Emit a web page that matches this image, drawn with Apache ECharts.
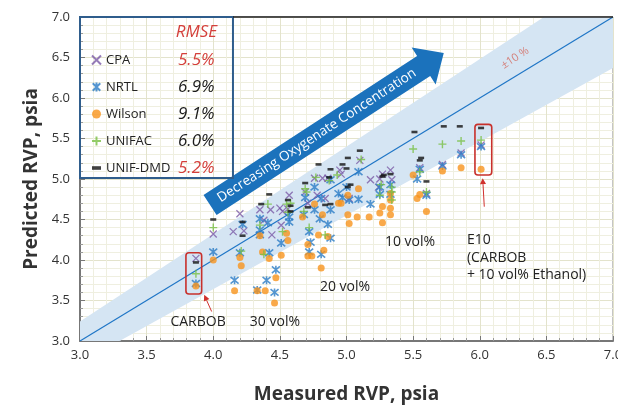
<!DOCTYPE html>
<html><head><meta charset="utf-8">
<script src="https://cdn.jsdelivr.net/npm/echarts/dist/echarts.min.js"></script>
<style>html,body{margin:0;padding:0;background:#fff}#c{width:618px;height:406px}</style>
</head><body><div id="c"></div>
<script>
// ---------- data ----------
const seriesNames = ['CPA', 'NRTL', 'Wilson', 'UNIFAC', 'UNIF-DMD'];
const rmseValues = ['5.5%', '6.9%', '9.1%', '6.0%', '5.2%'];
const rmseHighlight = [true, false, false, false, true];
const axisMin = 3.0, axisMax = 7.0, axisStep = 0.5;
const bandLow = 0.91, bandHigh = 1.08;   // "±10 %" band as drawn
const diagonal = [[3, 3], [7, 7]];

const cpa = [[3.87,4.02],[4.00,4.32],[4.15,4.35],[4.20,4.57],[4.23,4.36],[4.35,4.62],[4.38,4.49],[4.43,4.62],[4.44,4.31],[4.50,4.64],[4.51,4.43],[4.52,4.60],[4.56,4.63],[4.57,4.80],[4.69,4.84],[4.71,4.70],[4.76,5.01],[4.78,4.80],[4.82,5.01],[4.84,4.76],[4.86,5.01],[4.95,5.11],[4.96,5.06],[5.02,4.76],[5.10,5.23],[5.18,4.99],[5.24,4.90],[5.25,5.00],[5.27,5.06],[5.33,5.11],[5.34,4.99],[5.55,5.14],[5.60,4.82],[5.72,5.18],[5.86,5.32],[6.01,5.42]];
const nrtl = [[3.87,3.71],[4.00,4.10],[4.16,3.75],[4.20,4.09],[4.22,4.44],[4.33,3.63],[4.35,4.51],[4.35,4.37],[4.35,4.31],[4.40,3.75],[4.41,4.46],[4.42,4.09],[4.46,3.60],[4.47,3.88],[4.51,4.21],[4.57,4.53],[4.57,4.47],[4.68,4.56],[4.69,4.77],[4.72,4.35],[4.72,4.10],[4.73,4.22],[4.76,4.90],[4.76,4.62],[4.80,4.51],[4.81,4.76],[4.81,4.07],[4.86,4.44],[4.88,4.27],[4.88,4.62],[4.88,4.99],[4.94,4.82],[4.97,4.77],[5.00,4.90],[5.02,4.74],[5.09,4.75],[5.09,5.09],[5.18,4.69],[5.25,4.90],[5.25,4.81],[5.33,4.81],[5.33,4.93],[5.53,5.00],[5.55,5.12],[5.60,4.80],[5.72,5.16],[5.86,5.30],[6.01,5.40]];
const wilson = [[3.87,3.68],[4.00,4.00],[4.16,3.62],[4.20,4.03],[4.21,3.93],[4.33,3.62],[4.35,4.30],[4.37,4.10],[4.39,3.62],[4.42,4.02],[4.46,3.47],[4.47,3.78],[4.51,4.06],[4.55,4.33],[4.56,4.24],[4.67,4.53],[4.71,4.19],[4.71,4.05],[4.74,4.05],[4.76,4.69],[4.79,4.31],[4.81,3.90],[4.82,4.56],[4.83,4.12],[4.86,4.29],[4.94,4.70],[4.96,4.70],[5.01,4.80],[5.01,4.56],[5.02,4.45],[5.08,4.53],[5.09,4.88],[5.17,4.53],[5.25,4.58],[5.27,4.66],[5.27,4.46],[5.33,4.82],[5.33,4.74],[5.33,4.64],[5.33,4.56],[5.50,5.05],[5.53,4.76],[5.55,4.81],[5.60,4.60],[5.72,5.10],[5.86,5.14],[6.01,5.12]];
const unifac = [[3.87,3.83],[4.00,4.40],[4.21,4.11],[4.35,4.43],[4.38,4.07],[4.41,4.69],[4.52,4.35],[4.55,4.69],[4.56,4.59],[4.58,4.70],[4.68,4.60],[4.69,4.88],[4.70,4.84],[4.72,4.40],[4.77,5.02],[4.84,4.31],[4.87,4.98],[4.93,5.05],[5.11,5.24],[5.25,4.80],[5.26,4.93],[5.34,4.90],[5.34,4.84],[5.34,4.74],[5.50,5.37],[5.55,5.09],[5.60,4.84],[5.72,5.43],[5.86,5.47],[6.01,5.48]];
const unifDmd = [[3.87,3.97],[4.00,4.50],[4.22,4.47],[4.22,4.30],[4.36,4.69],[4.42,4.81],[4.56,4.74],[4.58,4.67],[4.58,4.60],[4.69,4.95],[4.71,4.65],[4.79,5.18],[4.84,4.68],[4.87,5.02],[4.88,4.69],[4.88,5.12],[4.97,5.18],[5.00,5.13],[5.01,5.26],[5.01,4.90],[5.03,4.93],[5.10,5.35],[5.27,5.03],[5.28,5.05],[5.33,5.06],[5.51,5.58],[5.55,5.23],[5.56,5.26],[5.60,4.97],[5.73,5.65],[5.85,5.65],[6.01,5.63]];

// annotation anchors (data coordinates)
const arrowTail = [3.976, 4.679], arrowTip = [5.73, 6.556];
const arrowText = 'Decreasing Oxygenate Concentration';
const carbobBox = [[3.795, 4.09], [3.913, 3.58]];
const e10Box = [[5.964, 5.675], [6.09, 5.05]];
const legendBox = [[3.0, 7.0], [4.148, 5.012]];

// ---------- styles ----------
const FONT = "'Open Sans', 'DejaVu Sans', sans-serif";
const colors = {CPA:'#7b5aa6', NRTL:'#2a7cc6', Wilson:'#f7941d', UNIFAC:'#78bf43', 'UNIF-DMD':'#111111'};
const symX = 'path://M0,0L10,10M10,0L0,10';
const symStar = 'path://M0,0L10,10M10,0L0,10M5,-1L5,11';
const symPlus = 'path://M5,0L5,10M0,5L10,5';

const chart = echarts.init(document.getElementById('c'));

function lineScatter(name, data, symbol, size, lw) {
  return {name, type:'scatter', data, symbol, symbolSize:size, z:5,
    itemStyle:{color:colors[name], borderColor:colors[name], borderWidth:lw}};
}

const bandPoly = [[axisMin, axisMin],[axisMin/bandLow, axisMin],[axisMax, axisMax*bandLow],
                  [axisMax, axisMax],[axisMax/bandHigh, axisMax],[axisMin, axisMin*bandHigh]];

const axisCommon = {
  type:'value', min:axisMin, max:axisMax, interval:axisStep,
  nameLocation:'middle',
  nameTextStyle:{fontFamily:FONT, fontWeight:'bold', fontSize:19, color:'#333'},
  axisLine:{lineStyle:{color:'#777', width:2}},
  axisTick:{inside:true, length:5, lineStyle:{color:'#777'}},
  minorTick:{show:true, splitNumber:5, length:3, lineStyle:{color:'#999'}},
  splitLine:{lineStyle:{color:'#e3e3cc'}},
  minorSplitLine:{show:true, lineStyle:{color:'#efefe0'}},
  axisLabel:{formatter:v=>v.toFixed(1), fontFamily:FONT, fontSize:13, color:'#333'}
};

chart.setOption({
  animation:false,
  grid:{left:80, right:5, top:17, bottom:65, containLabel:false, outerBoundsMode:'none',
        show:true, borderColor:'#8a8a8a', borderWidth:1},
  xAxis:Object.assign({}, axisCommon, {name:'Measured RVP, psia', nameGap:44, axisLabel:Object.assign({}, axisCommon.axisLabel, {margin:8})}),
  yAxis:Object.assign({}, axisCommon, {name:'Predicted RVP, psia', nameGap:38, axisLabel:Object.assign({}, axisCommon.axisLabel, {margin:10})}),
  legend:{
    orient:'vertical', left:86, top:45, itemWidth:9, itemHeight:9, itemGap:7, selectedMode:false,
    data:seriesNames.map(n => n === 'UNIF-DMD' ? {name:n, icon:'path://M0,0H6V2.4H0Z'} : {name:n}),
    formatter: name => {
      const i = seriesNames.indexOf(name);
      return '{n|' + name + '}{' + (rmseHighlight[i] ? 'r' : 'k') + '|' + rmseValues[i] + '}';
    },
    textStyle:{lineHeight:20, rich:{
      n:{width:72, fontSize:13, color:'#222', fontFamily:FONT},
      r:{fontSize:17, fontStyle:'italic', color:'#d43f3a', fontFamily:FONT},
      k:{fontSize:17, fontStyle:'italic', color:'#1a1a1a', fontFamily:FONT}
    }}
  },
  series:[
    {type:'custom', silent:true, z:1, data:[0],
     renderItem:(params, api) => ({type:'polygon', shape:{points:bandPoly.map(p => api.coord(p))}, style:{fill:'#d5e5f3'}})},
    {type:'line', data:diagonal, symbol:'none', silent:true, z:2, lineStyle:{color:'#1f76c6', width:1.2}},
    lineScatter('CPA', cpa, symX, 7, 1.3),
    lineScatter('NRTL', nrtl, symStar, 8, 1.6),
    {name:'Wilson', type:'scatter', data:wilson, symbol:'circle', symbolSize:7, z:5, itemStyle:{color:colors.Wilson}},
    lineScatter('UNIFAC', unifac, symPlus, 8, 1.4),
    {name:'UNIF-DMD', type:'scatter', data:unifDmd, symbol:'rect', symbolSize:[6,2.6], z:6, itemStyle:{color:colors['UNIF-DMD']}}
  ]
});

// ---------- annotations ----------
const px = p => chart.convertToPixel({gridIndex:0}, p);
const g = [];

// legend frame, top border
const lb0 = px(legendBox[0]), lb1 = px(legendBox[1]);
g.push({type:'rect', z:50, shape:{x:lb0[0], y:lb0[1], width:lb1[0]-lb0[0], height:lb1[1]-lb0[1]}, style:{fill:null, stroke:'#2f5d8c', lineWidth:2}});
const tr = px([axisMax, axisMax]);
g.push({type:'line', z:50, shape:{x1:lb1[0], y1:lb0[1], x2:tr[0], y2:tr[1]}, style:{stroke:'#222', lineWidth:1.5}});
g.push({type:'text', z:51, x:(lb0[0]+lb1[0])/2 + 40, y:lb0[1] + 15, style:{text:'RMSE', fill:'#d43f3a', font:'italic 17px ' + FONT, align:'center', verticalAlign:'middle'}});

// big arrow
const T = px(arrowTail), P = px(arrowTip);
const dx = P[0]-T[0], dy = P[1]-T[1], L = Math.hypot(dx, dy);
const ux = dx/L, uy = dy/L, nx = -uy, ny = ux;
const headLen = 24, bw = 12, hw = 22;
const B = [P[0]-ux*headLen, P[1]-uy*headLen];
const pt = (o, s) => [o[0]+nx*s, o[1]+ny*s];
g.push({type:'polygon', z:20, shape:{points:[pt(T,bw), pt(B,bw), pt(B,hw), P, pt(B,-hw), pt(B,-bw), pt(T,-bw)]}, style:{fill:'#1b72bc'}});
g.push({type:'text', z:21, x:(T[0]+B[0])/2, y:(T[1]+B[1])/2, rotation:-Math.atan2(dy, dx),
  style:{text:arrowText, fill:'#fff', font:'13.5px ' + FONT, align:'center', verticalAlign:'middle'}});

// ±10 % label
const bl = px([6.265, 6.494]);
g.push({type:'text', z:21, x:bl[0], y:bl[1], rotation:0.58, style:{text:'±10 %', fill:'#d4807b', font:'11px ' + FONT, align:'center', verticalAlign:'middle'}});

// red boxes
function redBox(b) {
  const a = px(b[0]), c = px(b[1]);
  g.push({type:'rect', z:30, shape:{x:a[0], y:a[1], width:c[0]-a[0], height:c[1]-a[1], r:3}, style:{fill:null, stroke:'#c8302b', lineWidth:1.6}});
}
redBox(carbobBox); redBox(e10Box);

function redArrow(from, to) {
  const f = px(from), t = px(to);
  const ddx = t[0]-f[0], ddy = t[1]-f[1], l = Math.hypot(ddx, ddy);
  const vx = ddx/l, vy = ddy/l;
  const base = [t[0]-vx*6, t[1]-vy*6];
  g.push({type:'line', z:30, shape:{x1:f[0], y1:f[1], x2:base[0], y2:base[1]}, style:{stroke:'#d0312d', lineWidth:1}});
  g.push({type:'polygon', z:30, shape:{points:[t, [base[0]-vy*3, base[1]+vx*3], [base[0]+vy*3, base[1]-vx*3]]}, style:{fill:'#d0312d'}});
}
redArrow([3.988, 3.364], [3.932, 3.57]);
redArrow([6.034, 4.658], [6.022, 5.01]);

// text labels
function label(pos, text, align) {
  const p = px(pos);
  g.push({type:'text', z:30, x:p[0], y:p[1], style:{text, fill:'#222', font:'14px ' + FONT, align:align || 'center', verticalAlign:'middle'}});
}
label([5.477, 4.222], '10 vol%');
label([4.989, 3.667], '20 vol%');
label([4.463, 3.235], '30 vol%');
label([3.886, 3.235], 'CARBOB');
label([5.904, 4.247], 'E10', 'left');
label([5.904, 4.025], '(CARBOB', 'left');
label([5.904, 3.815], '+ 10 vol% Ethanol)', 'left');

chart.setOption({graphic:g});
</script>
</body></html>
